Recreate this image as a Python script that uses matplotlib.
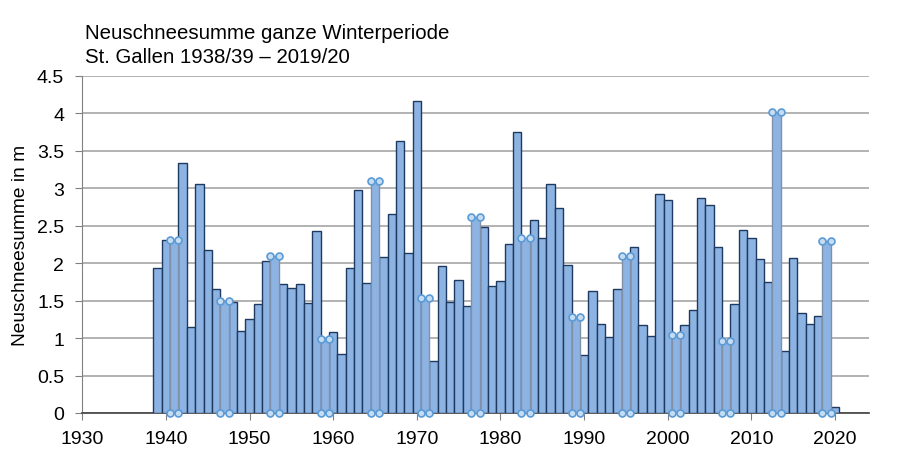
import numpy as np
import matplotlib.pyplot as plt

# Winterjahre (Ende der Periode) und Neuschneesumme in m
jahre = list(range(1939, 2021))
werte = [1.94, 2.31, 2.31, 3.33, 1.15, 3.06, 2.18, 1.66, 1.49, 1.48,
         1.10, 1.26, 1.46, 2.03, 2.10, 1.72, 1.67, 1.72, 1.47, 2.43,
         0.99, 1.08, 0.79, 1.94, 2.98, 1.74, 3.10, 2.08, 2.66, 3.63,
         2.13, 4.16, 1.53, 0.70, 1.96, 1.48, 1.77, 1.43, 2.62, 2.48,
         1.70, 1.76, 2.26, 3.75, 2.33, 2.57, 2.34, 3.06, 2.73, 1.97,
         1.28, 0.78, 1.63, 1.19, 1.01, 1.66, 2.10, 2.21, 1.17, 1.03,
         2.92, 2.84, 1.04, 1.17, 1.38, 2.87, 2.78, 2.21, 0.96, 1.46,
         2.44, 2.34, 2.05, 1.75, 4.02, 0.83, 2.07, 1.33, 1.19, 1.29,
         2.30, 0.08]
# markierte Balken (mit kleinen Kreisen an den Ecken)
markiert = [1941, 1947, 1953, 1959, 1965, 1971, 1977, 1983, 1989, 1995, 2001, 2007, 2013, 2019]

x_ticks = list(range(1930, 2030, 10))
y_ticks = [0, 0.5, 1, 1.5, 2, 2.5, 3, 3.5, 4, 4.5]
y_tick_labels = ['0', '0.5', '1', '1.5', '2', '2.5', '3', '3.5', '4', '4.5']

plt.rcParams['font.family'] = ['Liberation Sans', 'DejaVu Sans']

fig = plt.figure(figsize=(9, 4.6), dpi=100)
ax = fig.add_axes([0.0914, 0.1, 0.8745, 0.7333])

jahre_arr = np.array(jahre)
werte_arr = np.array(werte)
ist_markiert = np.isin(jahre_arr, markiert)

# normale Balken
ax.bar(jahre_arr[~ist_markiert], werte_arr[~ist_markiert], width=1.0,
       color='#8db3e2', edgecolor='#1f3a60', linewidth=1.0, zorder=3)
# markierte Balken oben drauf, mit grauem Rand
ax.bar(jahre_arr[ist_markiert], werte_arr[ist_markiert], width=1.0,
       color='#8db3e2', edgecolor='#8090a8', linewidth=1.0, zorder=4)

# Kreise an den Ecken der markierten Balken
for j, w in zip(jahre_arr[ist_markiert], werte_arr[ist_markiert]):
    ax.plot([j - 0.5, j + 0.5], [w, w], 'o', ms=5, mfc='#c5dcf2',
            mec='#5b9bd5', mew=1.2, zorder=5, clip_on=False)
    ax.plot([j - 0.5, j + 0.5], [0, 0], 'o', ms=5, mfc='#c5dcf2',
            mec='#5b9bd5', mew=1.2, zorder=5, clip_on=False)

ax.set_xlim(1930, 2024.1)
ax.set_ylim(0, 4.5)
ax.set_xticks(x_ticks)
ax.set_yticks(y_ticks)
ax.set_yticklabels(y_tick_labels)
ax.tick_params(axis='both', labelsize=14, length=5, color='#808080')
ax.tick_params(axis='x', pad=7)
ax.tick_params(axis='y', pad=8)
ax.yaxis.grid(True, color='#a6a6a6', linewidth=1.2, zorder=0)
ax.set_axisbelow(True)

for s in ['top', 'right']:
    ax.spines[s].set_visible(False)
ax.spines['left'].set_color('#808080')
ax.spines['bottom'].set_color('#404040')
ax.spines['bottom'].set_linewidth(1.2)

ax.set_ylabel('Neuschneesumme in m', fontsize=13.8, labelpad=6)

fig.text(0.0944, 0.915, 'Neuschneesumme ganze Winterperiode', fontsize=14.7,
         ha='left', va='baseline')
fig.text(0.0944, 0.863, 'St. Gallen 1938/39 \u2013 2019/20', fontsize=14.7,
         ha='left', va='baseline')

fig.savefig('out.png', dpi=100, facecolor='white')
